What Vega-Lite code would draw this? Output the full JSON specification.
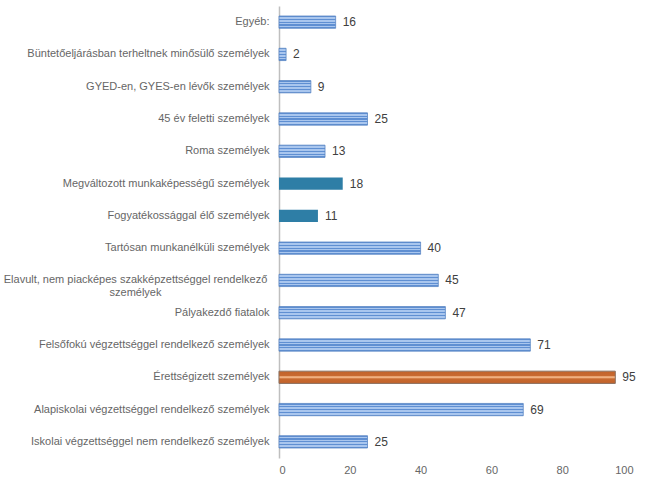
{
  "$schema": "https://vega.github.io/schema/vega-lite/v6.json",
  "autosize": {"type": "none"},
  "padding": {"left": 279, "top": 6, "right": 14, "bottom": 40},
  "width": 354,
  "height": 452,
  "background": "white",
  "config": {"view": {"stroke": null}, "font": "Liberation Sans"},
  "data": {"values": [
    {"cat": "Egyéb:", "value": 16, "grp": "stripe"},
    {"cat": "Büntetőeljárásban terheltnek minősülő személyek", "value": 2, "grp": "stripe"},
    {"cat": "GYED-en, GYES-en lévők személyek", "value": 9, "grp": "stripe"},
    {"cat": "45 év feletti személyek", "value": 25, "grp": "stripe"},
    {"cat": "Roma személyek", "value": 13, "grp": "stripe"},
    {"cat": "Megváltozott munkaképességű személyek", "value": 18, "grp": "solid"},
    {"cat": "Fogyatékossággal élő személyek", "value": 11, "grp": "solid"},
    {"cat": "Tartósan munkanélküli személyek", "value": 40, "grp": "stripe"},
    {"cat": "Elavult, nem piacképes szakképzettséggel rendelkező személyek", "value": 45, "grp": "stripe"},
    {"cat": "Pályakezdő fiatalok", "value": 47, "grp": "stripe"},
    {"cat": "Felsőfokú végzettséggel rendelkező személyek", "value": 71, "grp": "stripe"},
    {"cat": "Érettségizett személyek", "value": 95, "grp": "dot"},
    {"cat": "Alapiskolai végzettséggel rendelkező személyek", "value": 69, "grp": "stripe"},
    {"cat": "Iskolai végzettséggel nem rendelkező személyek", "value": 25, "grp": "stripe"}
  ]},
  "encoding": {
    "y": {
      "field": "cat", "type": "nominal", "title": null,
      "sort": [
        "Egyéb:",
        "Büntetőeljárásban terheltnek minősülő személyek",
        "GYED-en, GYES-en lévők személyek",
        "45 év feletti személyek",
        "Roma személyek",
        "Megváltozott munkaképességű személyek",
        "Fogyatékossággal élő személyek",
        "Tartósan munkanélküli személyek",
        "Elavult, nem piacképes szakképzettséggel rendelkező személyek",
        "Pályakezdő fiatalok",
        "Felsőfokú végzettséggel rendelkező személyek",
        "Érettségizett személyek",
        "Alapiskolai végzettséggel rendelkező személyek",
        "Iskolai végzettséggel nem rendelkező személyek"
      ],
      "scale": {"paddingInner": 0.62, "paddingOuter": 0.31},
      "axis": {
        "domainColor": "#BFBFBF", "domainWidth": 1.5, "ticks": false,
        "labelFontSize": 11, "labelColor": "#666666",
        "labelLimit": 300,
        "labelExpr": "datum.value == 'Elavult, nem piacképes szakképzettséggel rendelkező személyek' ? ['Elavult, nem piacképes szakképzettséggel rendelkező', 'személyek'] : datum.label",
        "labelAlign": {"condition": {"test": "datum.value == 'Elavult, nem piacképes szakképzettséggel rendelkező személyek'", "value": "center"}, "value": "right"},
        "labelPadding": {"condition": {"test": "datum.value == 'Elavult, nem piacképes szakképzettséggel rendelkező személyek'", "value": 144}, "value": 10}
      }
    },
    "x": {
      "field": "value", "type": "quantitative", "title": null,
      "scale": {"domain": [0, 100], "nice": false},
      "axis": {
        "values": [0, 20, 40, 60, 80, 100], "grid": false, "domain": false, "ticks": false,
        "labelPadding": 6, "labelFontSize": 11, "labelColor": "#666666"
      }
    }
  },
  "layer": [
    {
      "transform": [{"filter": "datum.grp == 'stripe'"}],
      "mark": {
        "type": "bar", "stroke": "#5B86C4", "strokeWidth": 0.8,
        "fill": {
          "x1": 0, "y1": 0, "x2": 0, "y2": 1, "gradient": "linear",
          "stops": [
            {"offset": 0, "color": "#5F8FD2"}, {"offset": 0.09, "color": "#5F8FD2"},
            {"offset": 0.09, "color": "#A9C6EE"}, {"offset": 0.22, "color": "#A9C6EE"},
            {"offset": 0.22, "color": "#5F8FD2"}, {"offset": 0.31, "color": "#5F8FD2"},
            {"offset": 0.31, "color": "#A9C6EE"}, {"offset": 0.45, "color": "#A9C6EE"},
            {"offset": 0.45, "color": "#5F8FD2"}, {"offset": 0.55, "color": "#5F8FD2"},
            {"offset": 0.55, "color": "#A9C6EE"}, {"offset": 0.69, "color": "#A9C6EE"},
            {"offset": 0.69, "color": "#5F8FD2"}, {"offset": 0.78, "color": "#5F8FD2"},
            {"offset": 0.78, "color": "#A9C6EE"}, {"offset": 0.91, "color": "#A9C6EE"},
            {"offset": 0.91, "color": "#5F8FD2"}, {"offset": 1, "color": "#5F8FD2"}
          ]
        }
      }
    },
    {
      "transform": [{"filter": "datum.grp == 'solid'"}],
      "mark": {"type": "bar", "fill": "#2E7EA6"}
    },
    {
      "transform": [{"filter": "datum.grp == 'dot'"}],
      "mark": {
        "type": "bar", "stroke": "#8A7060", "strokeWidth": 1,
        "fill": {
          "x1": 0, "y1": 0, "x2": 0, "y2": 1, "gradient": "linear",
          "stops": [
            {"offset": 0, "color": "#C2622A"}, {"offset": 0.38, "color": "#C86A30"},
            {"offset": 0.45, "color": "#F0B080"}, {"offset": 0.55, "color": "#F0B080"},
            {"offset": 0.62, "color": "#C86A30"}, {"offset": 1, "color": "#C2622A"}
          ]
        }
      }
    },
    {
      "mark": {"type": "text", "align": "left", "dx": 7, "fontSize": 12, "color": "#404040"},
      "encoding": {"text": {"field": "value", "type": "quantitative"}}
    }
  ]
}
